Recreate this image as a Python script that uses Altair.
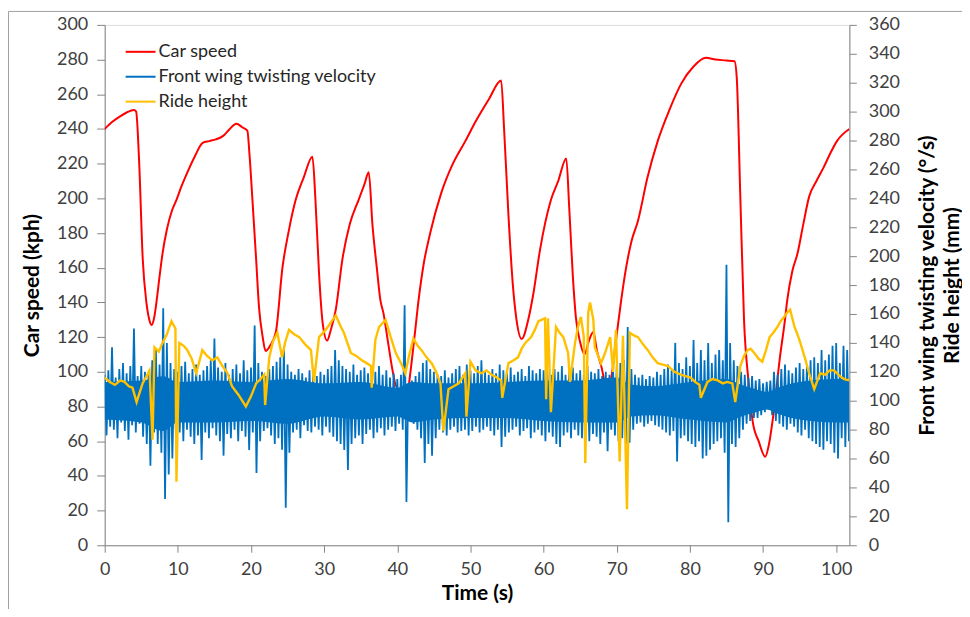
import altair as alt
import pandas as pd
import numpy as np

# ---- Car speed (kph, left axis) ----
speed_t = [0, 1, 2, 3, 4, 4.3, 4.7, 5.2, 5.7, 6.1, 6.4, 6.8, 7.1, 7.5, 7.9, 8.5, 9.2, 9.8,
           10.5, 11.2, 12.3, 13.4, 14.3, 15.2, 16.2, 17.1, 18.0, 18.8, 19.5, 19.8, 20.2,
           20.7, 21.1, 21.6, 22.0, 22.6, 23.4, 24.3, 25.2, 26.1, 27.2, 28.4, 28.8, 29.3,
           29.8, 30.4, 30.9, 31.6, 32.5, 33.5, 34.7, 35.5, 36.1, 36.6, 37.2, 37.7, 38.1,
           38.7, 39.3, 39.8, 40.6, 41.3, 41.8, 42.4, 42.9, 43.6, 44.5, 46.0, 47.6, 49.3,
           50.8, 52.5, 54.2, 54.6, 55.2, 55.8, 56.3, 57.0, 57.9, 58.6, 59.5, 61.0, 62.0,
           63.1, 63.5, 64.0, 64.4, 65.0, 65.6, 66.2, 66.8, 67.3, 67.9, 68.5, 69.2, 69.8,
           70.6, 71.2, 72.0, 72.9, 74.2, 75.6, 77.2, 78.8, 80.5, 82.2, 83.5, 85.0, 86.1,
           86.4, 86.9, 87.4, 88.0, 88.6, 89.4, 90.3, 90.8, 91.5, 92.3, 93.0, 93.3, 94.0,
           94.7, 95.5, 96.3, 97.3, 98.3, 99.2, 100.1, 101.8]
speed_v = [240, 244, 247, 249.5, 251, 250, 222, 165, 140, 130, 127, 132, 141, 155, 168, 182, 193, 199,
           207, 214, 224, 232, 233, 234, 236, 240, 243, 241, 239, 225, 199,
           165, 137, 120, 112, 115, 123, 160, 182, 199, 212, 224, 200, 157,
           128, 118, 124, 136, 165, 185, 199, 208, 215, 185, 160, 141, 134,
           118, 102, 92, 88, 86, 100, 122, 141, 162, 180, 203, 220, 233,
           245, 257, 268, 240, 190, 150, 130, 119, 130, 145, 170, 199, 210,
           223, 195, 155, 132, 117, 110, 118, 123, 112, 103, 93, 96, 115,
           141, 158, 175, 187, 212, 233, 251, 266, 276, 281, 280, 279.5, 279,
           270, 200, 130, 95, 71, 60, 51, 58, 78, 108, 130, 141, 158,
           168, 185, 201, 210, 218, 226, 233, 240]

# ---- Front wing twisting velocity (deg/s, right axis), one value every 0.25 s ----
wing_v = [
    118, 76, 121, 82, 137, 80, 116, 74, 122, 85, 126, 79, 119, 73, 124, 83,
    150, 78, 117, 84, 124, 75, 120, 70, 118, 55, 128, 78, 135, 70, 125, 64,
    164, 32, 140, 49, 126, 60, 122, 74, 120, 78, 124, 72, 127, 80, 119, 75,
    122, 70, 125, 76, 118, 59, 121, 78, 124, 74, 128, 81, 143, 76, 123, 72,
    120, 62, 126, 77, 118, 74, 122, 80, 125, 72, 119, 79, 128, 75, 121, 66,
    123, 78, 152, 50, 126, 72, 120, 79, 117, 81, 122, 76, 124, 70, 127, 74,
    130, 66, 138, 26, 125, 64, 120, 78, 118, 80, 122, 74, 119, 83, 116, 79,
    121, 78, 118, 82, 117, 80, 120, 76, 118, 82, 122, 78, 124, 75, 135, 72,
    128, 70, 124, 66, 122, 52, 120, 70, 125, 74, 118, 76, 121, 70, 123, 77,
    119, 80, 117, 74, 120, 78, 124, 81, 118, 76, 121, 80, 116, 82, 119, 79,
    115, 84, 118, 80, 166, 30, 112, 86, 114, 84, 117, 80, 120, 74, 126, 57,
    128, 70, 122, 62, 120, 74, 118, 80, 117, 78, 121, 76, 116, 80, 119, 82,
    122, 78, 124, 79, 118, 80, 125, 76, 121, 79, 119, 82, 124, 78, 128, 80,
    120, 82, 118, 79, 122, 76, 119, 80, 125, 68, 121, 75, 119, 78, 123, 80,
    118, 82, 120, 76, 122, 79, 117, 81, 124, 74, 121, 78, 119, 80, 122, 76,
    121, 72, 123, 78, 118, 75, 122, 70, 120, 68, 124, 76, 118, 78, 121, 74,
    123, 80, 119, 76, 121, 74, 118, 78, 124, 72, 120, 77, 119, 75, 122, 70,
    117, 78, 120, 65, 118, 80, 121, 76, 124, 72, 126, 74, 128, 70, 151, 71,
    122, 80, 118, 84, 116, 85, 118, 82, 115, 84, 117, 86, 116, 83, 120, 82,
    118, 80, 122, 78, 125, 76, 121, 79, 140, 58, 126, 74, 122, 76, 130, 72,
    124, 70, 142, 68, 126, 72, 135, 60, 128, 62, 140, 66, 126, 70, 132, 72,
    135, 74, 128, 64, 194, 16, 140, 70, 128, 68, 124, 74, 120, 80, 118, 84,
    116, 86, 117, 88, 114, 88, 115, 90, 112, 92, 113, 94, 114, 90, 120, 86,
    118, 84, 122, 82, 125, 80, 121, 84, 119, 82, 123, 78, 126, 76, 122, 80,
    124, 74, 128, 72, 130, 70, 126, 68, 135, 66, 128, 72, 132, 70, 138, 64,
    140, 60, 126, 74, 138, 68, 135, 72,
]
wing_step = 0.25

# dense core of the front-wing signal (solid part of the band), read at coarse times
core_t = [0, 5, 8, 10, 15, 20, 25, 30, 35, 40, 42, 45, 50, 55, 60, 65, 70, 72, 75, 80,
          85, 87, 89, 90.5, 92, 95, 100, 101.8]
core_hi = [113, 114, 117, 113, 114, 113, 115, 112, 113, 109, 113, 112, 112, 113, 114, 114,
           116, 111, 110, 113, 115, 111, 108, 106, 109, 113, 115, 115]
core_lo = [87, 85, 79, 85, 85, 86, 84, 89, 87, 89, 85, 87, 88, 88, 86, 85, 85, 89, 90, 87,
           85, 89, 92, 94, 91, 87, 85, 85]

# ---- Ride height (mm, right axis) ----
ride_t = [0, 0.7, 1.4, 2.1, 2.7, 3.3, 3.8, 4.36, 5.18, 6.13, 6.54, 6.81, 7.4, 7.9, 8.5, 9.13, 9.67, 9.81, 10.2,
          10.8, 11.3, 11.9, 12.5, 13.35, 14.0, 14.7, 15.4, 16.1, 16.8, 17.4, 18.3, 19.3, 20.0, 20.7, 21.3, 21.8, 21.93, 22.5, 23.0, 23.6, 24.25,
          24.7, 25.2, 25.9, 26.6, 27.4, 28.2, 28.6, 29.3, 30.2, 30.9, 31.6, 32.2, 32.7, 33.65, 34.4, 35.15, 35.8, 36.4, 36.5, 37.0, 37.5,
          38.4, 39.1, 39.8, 40.5, 41.1, 41.6, 42.2, 42.8, 43.3, 44.0, 44.7, 45.3, 45.9, 46.3, 47.0, 47.7, 48.4, 49.3,
          49.45, 50.0, 50.7, 51.5, 52.2, 52.9, 53.6, 54.2, 54.35, 55.2, 55.9, 56.5, 57.0, 57.5, 58.3, 58.8, 59.3, 60.2, 60.35,
          60.6, 61.0, 61.7, 62.2, 62.7, 63.35, 63.6, 64.3, 64.7, 65.1, 65.5, 65.7, 66.1, 66.35,
          66.8, 67.0, 67.85, 68.4, 69.1, 69.5, 69.9, 70.4, 70.85, 71.4, 71.8, 72.4, 72.9, 73.6, 74.25,
          74.9, 75.6, 76.3, 77.0, 77.9, 78.75, 79.4, 80.1, 80.7, 81.3, 81.5, 82.4, 83.1, 83.8, 84.5, 85.1, 85.8, 86.2, 86.9, 87.4, 87.9,
          88.3, 88.8, 89.4, 89.9, 90.4, 90.9, 91.4, 91.95, 92.4, 92.9, 93.3, 93.7, 94.3, 94.7, 95.1, 95.7, 96.3, 97.0, 97.8, 98.5, 99.1, 99.7, 100.5, 101.1, 101.8]
ride_v = [116, 113, 111, 114, 113, 110, 109, 99, 112, 121, 73, 137, 134, 140, 146, 155, 150, 44, 140,
          138, 135, 129, 119, 135, 131, 128, 130, 124, 119, 110, 104, 96, 103, 112, 115, 118, 97, 130, 141, 147, 130,
          141, 149, 146, 144, 139, 135, 113, 144, 149, 154, 159, 152, 147, 133, 131, 128, 126, 124, 109, 142, 151,
          156, 144, 133, 126, 119, 131, 143, 138, 135, 130, 126, 120, 112, 79, 108, 110, 112, 119,
          89, 127, 121, 119, 121, 118, 116, 114, 102, 126, 128, 130, 136, 140, 144, 149, 155, 157, 101,
          157, 92, 151, 147, 144, 133, 113, 140, 151, 158, 144, 57, 161, 168,
          156, 137, 126, 133, 144, 120, 149, 58, 145, 25, 147, 145, 144, 139, 135,
          130, 126, 125, 124, 120, 118, 117, 116, 113, 111, 102, 113, 115, 114, 112, 113, 112, 99, 124, 131, 135,
          136, 133, 129, 127, 135, 144, 147, 151, 155, 158, 161, 163, 151, 146, 140, 130, 119, 108, 119, 118, 121, 121, 117, 115, 114]

series_names = ["Car speed", "Front wing twisting velocity", "Ride height"]
series_colors = ["#FF0000", "#0070C0", "#FFC000"]

speed_df = pd.DataFrame({"t": speed_t, "v": speed_v, "series": series_names[0]})
wing_df = pd.DataFrame({"t": np.arange(len(wing_v)) * wing_step, "v": wing_v, "series": series_names[1]})
core_df = pd.DataFrame({"t": core_t, "hi": core_hi, "lo": core_lo})
ride_df = pd.DataFrame({"t": ride_t, "v": ride_v, "series": series_names[2]})

FONT = "Lato"
AX = "#868686"
LAB = "#404040"

color = alt.Color(
    "series:N",
    scale=alt.Scale(domain=series_names, range=series_colors),
    legend=alt.Legend(
        orient="none", legendX=20, legendY=11, title=None,
        symbolType="stroke", symbolSize=900, symbolStrokeWidth=2,
        labelFont=FONT, labelFontSize=18, labelColor="#262626", labelLimit=0,
        rowPadding=-3.5, labelOffset=2, padding=0,
    ),
)

xscale = alt.Scale(domain=[0, 101.8], nice=False, zero=False)
x = alt.X(
    "t:Q",
    scale=xscale,
    axis=alt.Axis(
        values=list(range(0, 101, 10)), title="Time (s)", grid=False,
        labelFlush=False, labelOverlap=False,
        labelFont=FONT, labelFontSize=18, labelColor=LAB, labelPadding=8,
        tickSize=7, tickColor=AX, domainColor=AX,
        titleFont=FONT, titleFontSize=21, titleFontWeight="bold", titleColor="#000",
        titlePadding=4,
    ),
)

red = alt.Chart(speed_df).mark_line(strokeWidth=2, clip=True, interpolate="monotone").encode(
    x=x,
    y=alt.Y(
        "v:Q",
        scale=alt.Scale(domain=[0, 300], nice=False),
        axis=alt.Axis(
            orient="left", values=list(range(0, 301, 20)), title="Car speed (kph)",
            grid=False, labelOverlap=False,
            labelFont=FONT, labelFontSize=18, labelColor=LAB, labelPadding=9,
            tickSize=8, tickColor=AX, domainColor=AX,
            titleFont=FONT, titleFontSize=21, titleFontWeight="bold", titleColor="#000",
            titlePadding=14,
        ),
    ),
    color=color,
    order=alt.Order("t:Q"),
)

rscale = alt.Scale(domain=[0, 360], nice=False)

core = alt.Chart(core_df).mark_area(color="#0070C0", clip=True, interpolate="monotone").encode(
    x=x,
    y=alt.Y("lo:Q", scale=rscale, axis=None),
    y2="hi:Q",
)

blue = alt.Chart(wing_df).mark_line(strokeWidth=1.8, clip=True).encode(
    x=x,
    y=alt.Y(
        "v:Q",
        scale=rscale,
        axis=alt.Axis(
            orient="right", values=list(range(0, 361, 20)),
            title=["Front wing twisting velocity (°/s)", "Ride height (mm)"],
            grid=False, labelOverlap=False,
            labelFont=FONT, labelFontSize=18, labelColor=LAB, labelPadding=12,
            tickSize=7, tickColor=AX, domainColor=AX,
            titleFont=FONT, titleFontSize=21, titleFontWeight="bold", titleColor="#000",
            titleAngle=270, titleBaseline="middle", titleAlign="center",
            titleX=78, titleY=261, titleLineHeight=26,
        ),
    ),
    color=color,
    order=alt.Order("t:Q"),
)

yellow = alt.Chart(ride_df).mark_line(strokeWidth=2.4, clip=True).encode(
    x=x,
    y=alt.Y("v:Q", scale=rscale, axis=None),
    color=color,
    order=alt.Order("t:Q"),
)

# outer frame of the figure
frame_top = alt.Chart(pd.DataFrame({"k": [0]})).mark_rule(color="#a0a0a0", strokeWidth=1).encode(
    x=alt.value(-96.5), x2=alt.value(900), y=alt.value(-13.5)
)
frame_left = alt.Chart(pd.DataFrame({"k": [0]})).mark_rule(color="#a0a0a0", strokeWidth=1).encode(
    x=alt.value(-96.5), y=alt.value(-13.5), y2=alt.value(600)
)

chart = alt.layer(red, core, blue, yellow, frame_top, frame_left).resolve_scale(
    y="independent"
).properties(
    width=747, height=522,
    autosize=alt.AutoSizeParams(type="none"),
    padding={"left": 97, "top": 16, "right": 113, "bottom": 63},
).configure_view(
    stroke=AX, strokeWidth=1
).configure(background="white")

chart.save("out.html", embed_options={"renderer": "svg", "actions": False})
